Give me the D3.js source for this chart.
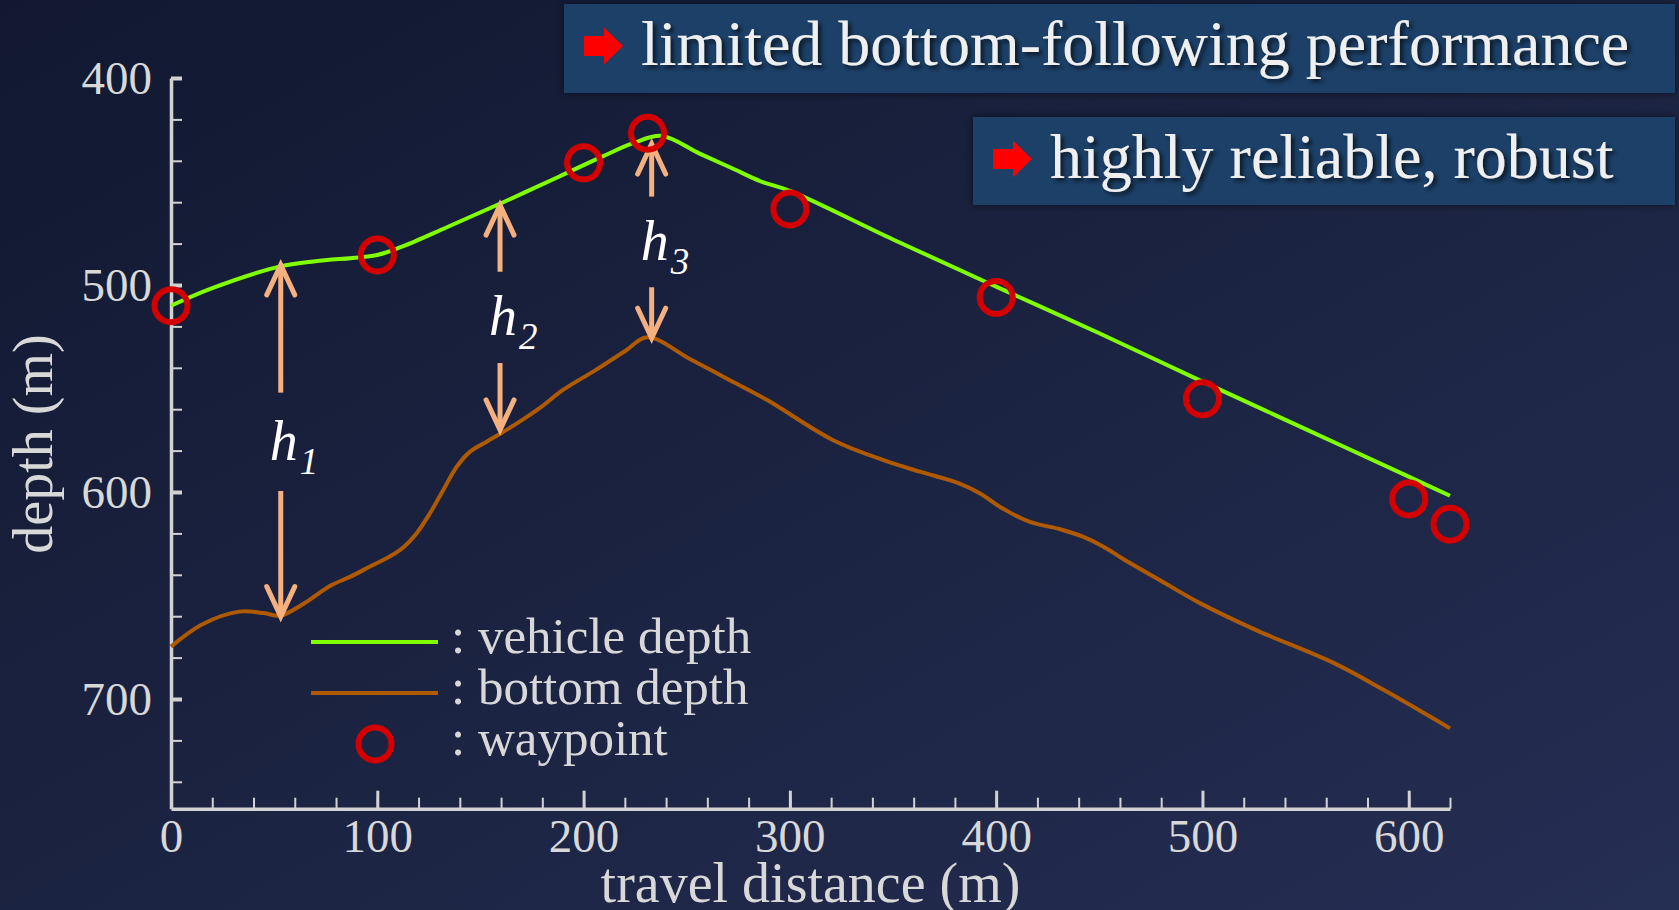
<!DOCTYPE html>
<html>
<head>
<meta charset="utf-8">
<script src="https://cdn.jsdelivr.net/npm/d3@7"></script>
<style>
body { margin: 0; overflow: hidden; background: #161d38; }
text { font-family: "Liberation Serif", "Times New Roman", serif; }
</style>
</head>
<body>
<script>
// vehicle depth track (m)
var vehicleDist = [0, 20, 53, 70, 100, 112, 134, 160, 188, 209, 224, 238, 256, 272, 286, 300, 350, 400, 450, 500, 550, 600, 620];
var vehicleDepth = [510, 501.5, 491, 488.5, 485.5, 481.5, 472, 460.5, 447.7, 438, 431.5, 428, 436.4, 443.6, 450, 454.5, 478, 500.8, 523.3, 546.7, 569.6, 592.6, 601.8];

// sea bottom profile (m)
var bottomDist = [0, 15, 33, 45, 53, 65, 77, 87, 96.5, 106, 113, 119, 125.5, 132, 138.5, 145, 153, 160, 169, 180, 190, 206, 220, 231, 252, 270, 289, 321, 345, 363, 382, 392, 403, 416, 431, 442, 452, 461, 480, 499, 526, 564, 588, 620];
var bottomDepth = [674.7, 664, 657.8, 658.5, 659.7, 653.5, 645.4, 640.9, 636, 631.2, 626.4, 620, 610.3, 599, 587.8, 580.5, 575.7, 571.6, 566, 558.5, 550.7, 541, 532, 525.3, 536, 545.5, 555.6, 575, 584.5, 590.2, 595.8, 600.6, 607.9, 614.3, 618, 621.6, 626.4, 632, 643, 653.8, 666.7, 682.8, 695.7, 714.2];

// waypoints
var waypointDist = [0, 100, 200, 231, 300, 400, 500, 600, 620];
var waypointDepth = [510, 485.5, 441, 426.7, 463.3, 506, 555, 603.4, 615.6];

// altitude markers h1..h3
var hNames = ["1", "2", "3"];
var hDist = [53.2, 159.5, 233];
var hTop = [490.3, 461.4, 431.9];
var hUpFrom = [552, 493.6, 457.3];
var hDownFrom = [599.5, 537.7, 501.1];
var hBottom = [660.2, 570, 525.7];

var xMajor = [0, 100, 200, 300, 400, 500, 600];
var xMinor = d3.range(0, 621, 20);
var yMajor = [400, 500, 600, 700];
var yMinor = d3.range(400, 741, 20);

var legendNames = [": vehicle depth", ": bottom depth", ": waypoint"];
var notes = ["limited bottom-following performance", "highly reliable, robust"];

var width = 1679, height = 910;
var green = "#80ff00", brown = "#b05a00", red = "#d40000", peach = "#f5b080";
var axisColor = "#d2d2d2";

var svg = d3.select("body").append("svg")
    .attr("width", width)
    .attr("height", height);

var defs = svg.append("defs");
var grad = defs.append("linearGradient").attr("id", "bg")
    .attr("x1", "0").attr("y1", "0").attr("x2", "1").attr("y2", "1");
grad.append("stop").attr("offset", "0%").attr("stop-color", "#111830");
grad.append("stop").attr("offset", "100%").attr("stop-color", "#252e53");

var shadow = defs.append("filter").attr("id", "txtshadow")
    .attr("x", "-10%").attr("y", "-30%").attr("width", "120%").attr("height", "160%");
shadow.append("feDropShadow").attr("dx", 3).attr("dy", 3).attr("stdDeviation", 2)
    .attr("flood-color", "#000").attr("flood-opacity", 0.65);

var boxglow = defs.append("filter").attr("id", "boxglow")
    .attr("x", "-5%").attr("y", "-20%").attr("width", "110%").attr("height", "140%");
boxglow.append("feDropShadow").attr("dx", 0).attr("dy", 0).attr("stdDeviation", 4)
    .attr("flood-color", "#000").attr("flood-opacity", 0.55);

svg.append("rect").attr("width", width).attr("height", height).attr("fill", "url(#bg)");

var x = d3.scaleLinear().domain([0, 620]).range([171, 1450]);
var y = d3.scaleLinear().domain([400, 753]).range([78, 808.7]);

// axes: minor ticks first, then major ticks with labels
svg.append("g").attr("class", "x_minor")
    .attr("transform", "translate(0," + y(753) + ")")
    .call(d3.axisBottom(x).tickValues(xMinor).tickSize(-11).tickSizeOuter(0).tickFormat(""));
svg.append("g").attr("class", "y_minor")
    .attr("transform", "translate(" + x(0) + ",0)")
    .call(d3.axisLeft(y).tickValues(yMinor).tickSize(-11).tickSizeOuter(0).tickFormat(""));

var xAxis = svg.append("g").attr("class", "x_axis")
    .attr("transform", "translate(0," + y(753) + ")")
    .call(d3.axisBottom(x).tickValues(xMajor).tickSize(-18).tickSizeOuter(0).tickPadding(10));
var yAxis = svg.append("g").attr("class", "y_axis")
    .attr("transform", "translate(" + x(0) + ",0)")
    .call(d3.axisLeft(y).tickValues(yMajor).tickSize(-11).tickSizeOuter(0).tickPadding(19));

svg.selectAll(".x_minor line, .y_minor line").attr("stroke", axisColor).attr("stroke-width", 2);
svg.selectAll(".x_minor path, .y_minor path").remove();
xAxis.selectAll("line").attr("stroke", axisColor).attr("stroke-width", 3);
yAxis.selectAll("line").attr("stroke", axisColor).attr("stroke-width", 4);
svg.selectAll(".x_axis path, .y_axis path").attr("stroke", axisColor).attr("stroke-width", 3.5);
svg.selectAll(".x_axis text, .y_axis text")
    .attr("fill", "#d8d8d8")
    .style("font-family", "'Liberation Serif', serif")
    .style("font-size", "47px");

svg.append("text")
    .attr("transform", "translate(52,444) rotate(-90)")
    .attr("text-anchor", "middle")
    .attr("fill", "#d8d8d8")
    .style("font-size", "56px")
    .text("depth (m)");
svg.append("text")
    .attr("x", (x(0) + x(620)) / 2).attr("y", 902)
    .attr("text-anchor", "middle")
    .attr("fill", "#d8d8d8")
    .style("font-size", "56px")
    .text("travel distance (m)");

// curves
var vehicle = vehicleDist.map(function(d, i){ return [d, vehicleDepth[i]]; });
var bottom = bottomDist.map(function(d, i){ return [d, bottomDepth[i]]; });
var line = d3.line()
    .x(function(d){ return x(d[0]); })
    .y(function(d){ return y(d[1]); })
    .curve(d3.curveCatmullRom.alpha(0.5));

svg.append("path").datum(bottom)
    .attr("d", line).attr("fill", "none")
    .attr("stroke", brown).attr("stroke-width", 4).attr("stroke-linejoin", "round");
svg.append("path").datum(vehicle)
    .attr("d", line).attr("fill", "none")
    .attr("stroke", green).attr("stroke-width", 4).attr("stroke-linejoin", "round");

// h arrows
var arrowHead = function(px, py, dir){
    // dir = -1 points up, +1 points down
    return "M" + (px - 14) + "," + (py - dir * 30) + "L" + px + "," + py + "L" + (px + 14) + "," + (py - dir * 30);
};
var arrows = svg.append("g").attr("class", "harrows");
hNames.forEach(function(name, i){
    var px = x(hDist[i]);
    arrows.append("line")
        .attr("x1", px).attr("x2", px)
        .attr("y1", y(hUpFrom[i])).attr("y2", y(hTop[i]) + 2)
        .attr("stroke", peach).attr("stroke-width", 5);
    arrows.append("path")
        .attr("d", arrowHead(px, y(hTop[i]), -1))
        .attr("fill", "none").attr("stroke", peach).attr("stroke-width", 5)
        .attr("stroke-linecap", "round").attr("stroke-linejoin", "miter");
    arrows.append("line")
        .attr("x1", px).attr("x2", px)
        .attr("y1", y(hDownFrom[i])).attr("y2", y(hBottom[i]) - 2)
        .attr("stroke", peach).attr("stroke-width", 5);
    arrows.append("path")
        .attr("d", arrowHead(px, y(hBottom[i]), 1))
        .attr("fill", "none").attr("stroke", peach).attr("stroke-width", 5)
        .attr("stroke-linecap", "round").attr("stroke-linejoin", "miter");

    var mid = (y(hUpFrom[i]) + y(hDownFrom[i])) / 2;
    var lbl = arrows.append("text")
        .attr("x", px - 11).attr("y", mid + 18)
        .attr("fill", "#ffffff")
        .style("font-style", "italic")
        .style("font-size", "56px")
        .text("h");
    lbl.append("tspan")
        .attr("dx", 2).attr("dy", 14)
        .style("font-size", "37px")
        .text(name);
});

// waypoints
svg.selectAll(".wp")
    .data(waypointDist).enter().append("circle")
    .attr("class", "wp")
    .attr("cx", function(d){ return x(d); })
    .attr("cy", function(d, i){ return y(waypointDepth[i]); })
    .attr("r", 16.5)
    .attr("fill", "none")
    .attr("stroke", red)
    .attr("stroke-width", 6);

// legend
var legendY = [642, 693, 744];
svg.append("line").attr("x1", 311).attr("x2", 438).attr("y1", legendY[0]).attr("y2", legendY[0])
    .attr("stroke", green).attr("stroke-width", 4);
svg.append("line").attr("x1", 311).attr("x2", 438).attr("y1", legendY[1]).attr("y2", legendY[1])
    .attr("stroke", brown).attr("stroke-width", 4);
svg.append("circle").attr("cx", 375).attr("cy", legendY[2]).attr("r", 16.5)
    .attr("fill", "none").attr("stroke", red).attr("stroke-width", 6);
svg.selectAll(".legtext")
    .data(legendNames).enter().append("text")
    .attr("class", "legtext")
    .attr("x", 451)
    .attr("y", function(d, i){ return legendY[i] + 11; })
    .attr("fill", "#d8d8d8")
    .style("font-size", "51px")
    .text(function(d){ return d; });

// note boxes
var boxX = [564, 973], boxY = [4, 117], boxH = [89, 88];
var noteBaseline = [65, 178], noteTextX = [641, 1050], noteArrowX = [584, 993];
notes.forEach(function(t, i){
    svg.append("rect")
        .attr("x", boxX[i]).attr("y", boxY[i])
        .attr("width", 1675 - boxX[i]).attr("height", boxH[i])
        .attr("fill", "#1d4168")
        .attr("filter", "url(#boxglow)");
    var ax = noteArrowX[i], ay = noteBaseline[i] - 19;
    svg.append("path")
        .attr("d", "M" + ax + "," + (ay - 10) + "H" + (ax + 20) + "V" + (ay - 18.5) +
            "L" + (ax + 39) + "," + ay + "L" + (ax + 20) + "," + (ay + 18.5) +
            "V" + (ay + 10) + "H" + ax + "Z")
        .attr("fill", "#ff0000");
    svg.append("text")
        .attr("x", noteTextX[i]).attr("y", noteBaseline[i])
        .attr("fill", "#efefef")
        .attr("filter", "url(#txtshadow)")
        .style("font-size", "64px")
        .text(t);
});
</script>
</body>
</html>
